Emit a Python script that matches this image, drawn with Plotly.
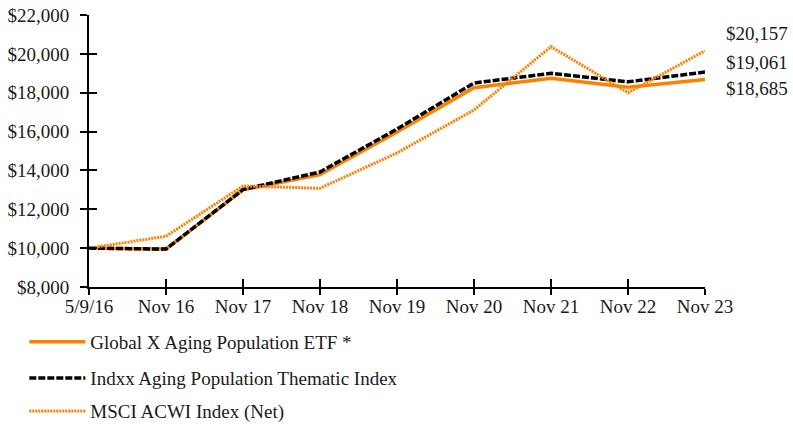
import plotly.graph_objects as go

categories = ["5/9/16", "Nov 16", "Nov 17", "Nov 18", "Nov 19", "Nov 20", "Nov 21", "Nov 22", "Nov 23"]
etf = [10000, 9950, 13000, 13780, 15980, 18260, 18740, 18280, 18685]
index_vals = [10000, 9950, 13020, 13920, 16130, 18500, 19000, 18560, 19061]
msci = [10000, 10610, 13200, 13080, 14900, 17110, 20370, 18000, 20157]
series_names = ["Global X Aging Population ETF *", "Indxx Aging Population Thematic Index", "MSCI ACWI Index (Net)"]
end_labels = ["$18,685", "$19,061", "$20,157"]

ORANGE = "#FF8000"
FONT = "Liberation Serif"
FS = 19
TXT = "#1a1a1a"

fig = go.Figure()
fig.add_trace(go.Scatter(x=categories, y=etf, mode="lines", name=series_names[0],
                         line=dict(color=ORANGE, width=3.5), legend="legend"))
fig.add_trace(go.Scatter(x=categories, y=index_vals, mode="lines", name=series_names[1],
                         line=dict(color="black", width=3.5, dash="7px,2px"), legend="legend2"))
fig.add_trace(go.Scatter(x=categories, y=msci, mode="lines", name=series_names[2],
                         line=dict(color=ORANGE, width=3, dash="2px,1px"), legend="legend3"))
# invisible trace anchoring overlay axes (for ticks crossing the axis lines)
fig.add_trace(go.Scatter(x=categories, y=etf, mode="lines", line=dict(width=0), xaxis="x2", yaxis="y2",
                         showlegend=False, hoverinfo="skip", opacity=0))

shifts = [-9, 10, 17]
for lbl, val, sh in zip(end_labels, [etf[-1], index_vals[-1], msci[-1]], shifts):
    fig.add_annotation(x=categories[-1], y=val, text=lbl, showarrow=False, xanchor="left",
                       xshift=19, yshift=sh, font=dict(family=FONT, size=FS, color=TXT))

axis_common = dict(showline=True, linecolor="black", linewidth=2, showgrid=False, zeroline=False,
                   tickcolor="black", tickwidth=2)
leg_common = dict(xanchor="left", yanchor="middle", bgcolor="rgba(0,0,0,0)",
                  font=dict(family=FONT, size=FS, color=TXT), itemwidth=56)
fig.update_layout(
    width=793, height=424,
    margin=dict(l=89, r=88, t=15, b=137, autoexpand=False),
    paper_bgcolor="white", plot_bgcolor="white",
    font=dict(family=FONT, size=FS, color=TXT),
    xaxis=dict(type="category", range=[0, 8], ticks="outside", ticklen=6, ticklabelstandoff=-5,
               **axis_common),
    yaxis=dict(range=[8000, 22000], dtick=2000, tickprefix="$", tickformat=",", ticks="outside", ticklen=7,
               ticklabelstandoff=7, **axis_common),
    xaxis2=dict(type="category", range=[0, 8], overlaying="x", ticks="inside", ticklen=8,
                showticklabels=False, showline=False, showgrid=False, zeroline=False,
                tickcolor="black", tickwidth=2, matches="x"),
    yaxis2=dict(range=[8000, 22000], dtick=2000, overlaying="y", ticks="inside", ticklen=8,
                showticklabels=False, showline=False, showgrid=False, zeroline=False,
                tickcolor="black", tickwidth=2),
    legend=dict(x=-0.105, y=-0.202, **leg_common),
    legend2=dict(x=-0.105, y=-0.335, **leg_common),
    legend3=dict(x=-0.105, y=-0.456, **leg_common),
)

fig.write_html("out.html", config={"displayModeBar": False},
               post_script="document.body.style.margin='0';document.body.style.overflow='hidden';")
